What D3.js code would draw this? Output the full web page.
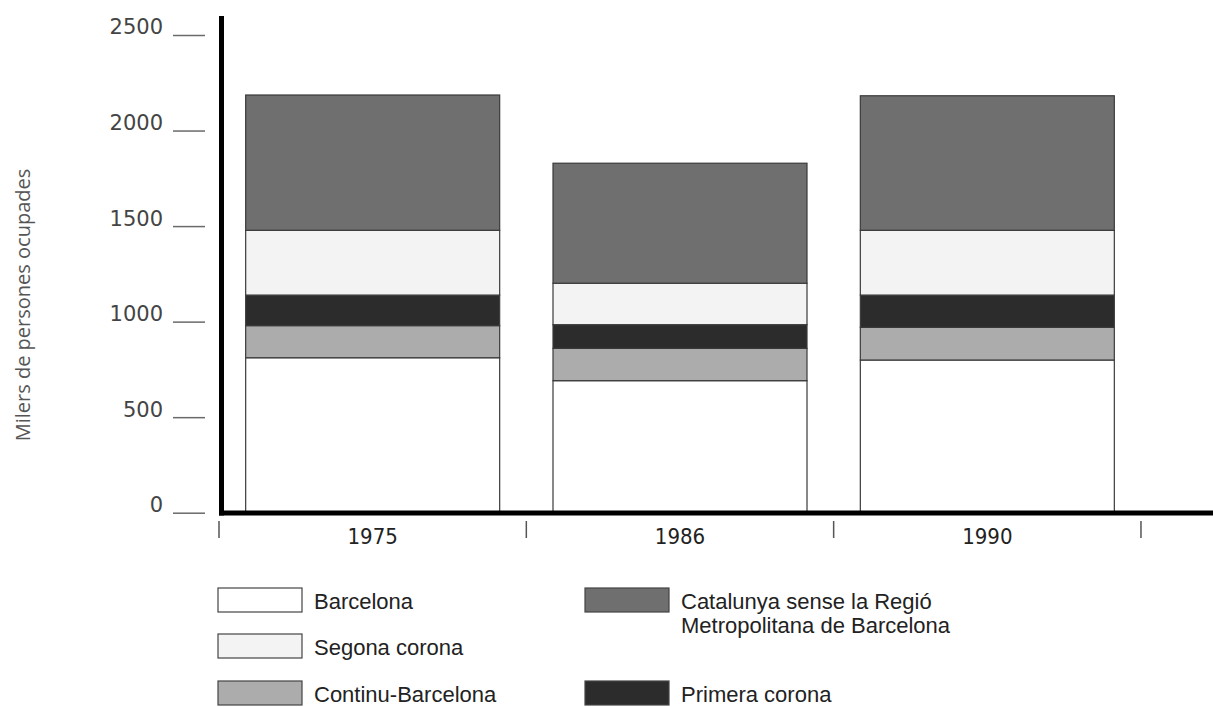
<!DOCTYPE html>
<html>
<head>
<meta charset="utf-8">
<script src="https://cdn.jsdelivr.net/npm/d3@7"></script>
<style>
  body { margin: 0; background: #fff; }
  svg { display: block; }
  text { font-family: "Liberation Sans", Arial, sans-serif; }
</style>
</head>
<body>
<div id="chart"></div>
<script>
// setting up constants
const FRAME_WIDTH = 1213;
const FRAME_HEIGHT = 707;

// data (milers de persones ocupades)
const years = ["1975", "1986", "1990"];
const keys = ["Barcelona", "Continu-Barcelona", "Primera corona", "Segona corona", "Catalunya"];
const barcelona = [811, 691, 799];
const continu = [168, 169, 171];
const primera = [160, 124, 169];
const segona = [339, 217, 339];
const catalunya = [708, 628, 704];
const yTicks = [0, 500, 1000, 1500, 2000, 2500];

const colors = {
  "Barcelona": "#ffffff",
  "Continu-Barcelona": "#acacac",
  "Primera corona": "#2c2c2c",
  "Segona corona": "#f3f3f3",
  "Catalunya": "#6f6f6f"
};

// legend entries: [key, label lines, column, row]
const legendItems = [
  ["Barcelona", ["Barcelona"], 0, 0],
  ["Segona corona", ["Segona corona"], 0, 1],
  ["Continu-Barcelona", ["Continu-Barcelona"], 0, 2],
  ["Catalunya", ["Catalunya sense la Regió", "Metropolitana de Barcelona"], 1, 0],
  ["Primera corona", ["Primera corona"], 1, 2]
];

const table = years.map((yr, i) => ({
  year: yr,
  "Barcelona": barcelona[i],
  "Continu-Barcelona": continu[i],
  "Primera corona": primera[i],
  "Segona corona": segona[i],
  "Catalunya": catalunya[i]
}));

const svg = d3.select("#chart")
  .append("svg")
    .attr("width", FRAME_WIDTH)
    .attr("height", FRAME_HEIGHT);

// scales
const xScale = d3.scaleBand()
  .domain(years)
  .range([219, 1141])
  .paddingInner(0.1735)
  .paddingOuter(0.0868);

const yScale = d3.scaleLinear()
  .domain([0, 2500])
  .range([512.7, 35]);

// y axis ticks and labels
const yAxis = svg.append("g")
  .attr("transform", "translate(205,0)")
  .call(d3.axisLeft(yScale)
    .tickValues(yTicks)
    .tickFormat(d3.format("d"))
    .tickSize(32)
    .tickPadding(10));
yAxis.select(".domain").remove();
yAxis.selectAll(".tick line").attr("stroke", "#6a6a6a").attr("stroke-width", 1.5);
yAxis.selectAll(".tick text")
  .attr("dy", "-0.05em")
  .attr("fill", "#444")
  .style("font-size", "21px")
  .style("font-family", "'DejaVu Sans', sans-serif");

// stacked bars
const stacked = d3.stack().keys(keys)(table);
svg.append("g")
  .selectAll("g")
  .data(stacked)
  .enter()
  .append("g")
    .attr("fill", d => colors[d.key])
  .selectAll("rect")
  .data(d => d)
  .enter()
  .append("rect")
    .attr("x", d => xScale(d.data.year))
    .attr("y", d => yScale(d[1]))
    .attr("width", xScale.bandwidth())
    .attr("height", d => yScale(d[0]) - yScale(d[1]))
    .attr("stroke", "#3a3a3a")
    .attr("stroke-width", 1.2);

// main axis lines
svg.append("line")
  .attr("x1", 221.5).attr("x2", 221.5)
  .attr("y1", 16).attr("y2", 515.5)
  .attr("stroke", "#000").attr("stroke-width", 5);
svg.append("line")
  .attr("x1", 219).attr("x2", FRAME_WIDTH)
  .attr("y1", 513).attr("y2", 513)
  .attr("stroke", "#000").attr("stroke-width", 5);

// x ticks at band boundaries
const bounds = d3.range(years.length + 1).map(i => xScale.range()[0] + i * xScale.step());
svg.append("g")
  .selectAll("line")
  .data(bounds)
  .enter()
  .append("line")
    .attr("x1", d => d).attr("x2", d => d)
    .attr("y1", 521).attr("y2", 538)
    .attr("stroke", "#555").attr("stroke-width", 1.5);

svg.append("g")
  .selectAll("text")
  .data(years)
  .enter()
  .append("text")
    .attr("x", d => xScale(d) + xScale.bandwidth() / 2)
    .attr("y", 544)
    .attr("text-anchor", "middle")
    .attr("fill", "#222")
    .style("font-family", "'DejaVu Sans Condensed', 'Liberation Sans', sans-serif")
    .style("font-size", "22px")
    .style("font-stretch", "condensed")
    .text(d => d);

// y axis title
svg.append("text")
  .attr("transform", "translate(30,305) rotate(-90)")
  .attr("text-anchor", "middle")
  .attr("fill", "#555")
  .style("font-family", "'Open Sans', sans-serif")
  .style("font-size", "20px")
  .text("Milers de persones ocupades");

// legend
const colX = [218, 585];
const rowY = [588, 634, 681];
const legend = svg.append("g")
  .selectAll("g")
  .data(legendItems)
  .enter()
  .append("g")
    .attr("transform", d => "translate(" + colX[d[2]] + "," + rowY[d[3]] + ")");
legend.append("rect")
  .attr("width", 84).attr("height", 24)
  .attr("fill", d => colors[d[0]])
  .attr("stroke", "#444").attr("stroke-width", 1.2);
legend.append("text")
  .attr("x", 96)
  .attr("y", 21)
  .attr("fill", "#222")
  .style("font-size", "22px")
  .selectAll("tspan")
  .data(d => d[1])
  .enter()
  .append("tspan")
    .attr("x", 96)
    .attr("dy", (d, i) => i === 0 ? 0 : 24)
    .text(d => d);
</script>
</body>
</html>
